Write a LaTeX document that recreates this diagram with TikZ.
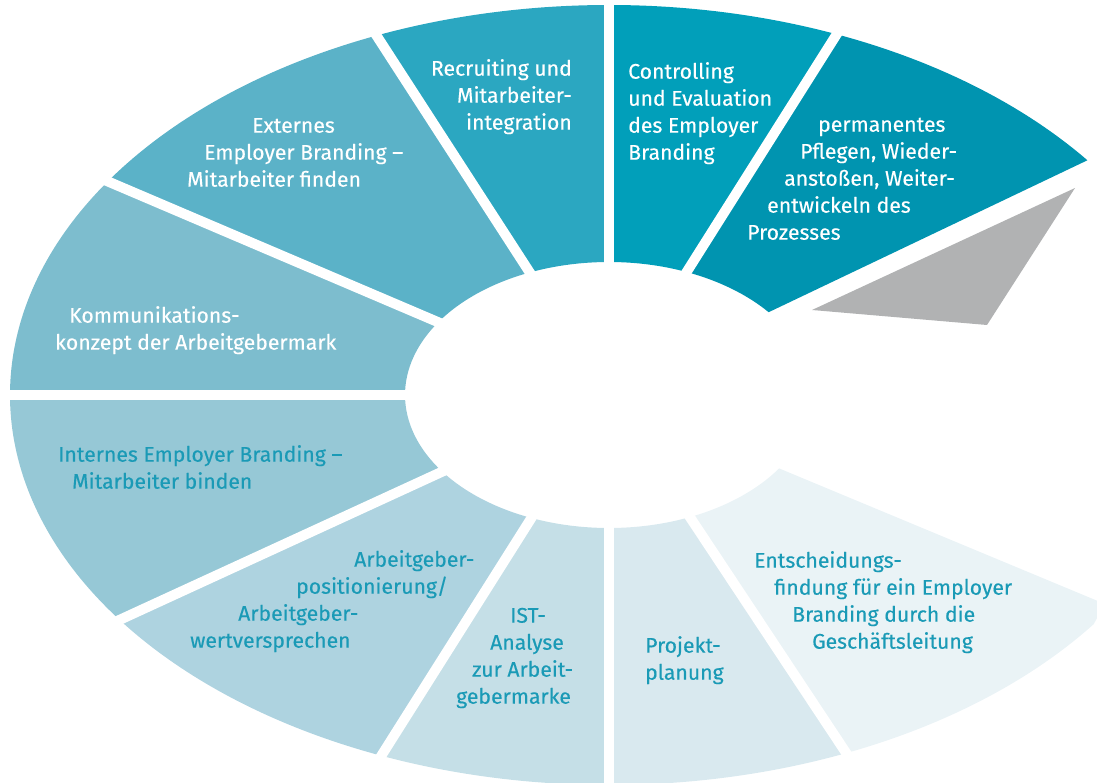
\documentclass[tikz,border=0pt]{standalone}
\usepackage{fontspec}
\setmainfont{Fira Sans}[FakeBold=0.3]
\usetikzlibrary{calc}
\definecolor{cEnt}{HTML}{EAF3F6}
\definecolor{cProj}{HTML}{D9E9EF}
\definecolor{cIst}{HTML}{C5DFE7}
\definecolor{cAgp}{HTML}{AED3E0}
\definecolor{cInt}{HTML}{96C8D6}
\definecolor{cKomm}{HTML}{7DBDCE}
\definecolor{cExt}{HTML}{5BB2C8}
\definecolor{cRec}{HTML}{2BA7C1}
\definecolor{cCtrl}{HTML}{019FBA}
\definecolor{cPerm}{HTML}{0094B0}
\definecolor{cGray}{HTML}{B1B2B3}
\definecolor{tealtext}{HTML}{1A9AB6}
\newcommand\ringseg[3]{%
  \fill[#3] ($(C)+(#1:599pt and 390pt)$)
    arc[start angle=#1, end angle=#2, x radius=599pt, y radius=390pt]
    -- ($(C)+(#2:204pt and 133pt)$)
    arc[start angle=#2, end angle=#1, x radius=204pt, y radius=133pt] -- cycle;}
\tikzset{
  lbl/.style={inner sep=0pt, align=left, anchor=north west,
    font=\fontsize{21.2}{27}\selectfont},
  lblw/.style={lbl, text=white},
  lblt/.style={lbl, text=tealtext},
  gapline/.style={draw=white, line width=10pt},
}
\begin{document}
\begin{tikzpicture}[x=1pt,y=-1pt]
\useasboundingbox (0,0) rectangle (1097,783);
\clip (0,0) rectangle (1097,783);
\coordinate (C) at (609,395);
% ring segments
\fill[cEnt] ($(C)+(293.5:599pt and 390pt)$)
    arc[start angle=293.5, end angle=324, x radius=599pt, y radius=390pt]
    -- (1105,604) -- ($(C)+(326.5:204pt and 133pt)$)
    arc[start angle=326.5, end angle=293.5, x radius=204pt, y radius=133pt] -- cycle;
\ringseg{270}{293.5}{cProj}
\ringseg{247.5}{270}{cIst}
\ringseg{215}{247.5}{cAgp}
\ringseg{180}{215}{cInt}
\ringseg{147}{180}{cKomm}
\ringseg{113}{147}{cExt}
\ringseg{90}{113}{cRec}
\ringseg{67.5}{90}{cCtrl}
\fill[cPerm] ($(C)+(37:599pt and 390pt)$)
    arc[start angle=37, end angle=67.5, x radius=599pt, y radius=390pt]
    -- ($(C)+(67.5:204pt and 133pt)$)
    arc[start angle=67.5, end angle=38.5, x radius=204pt, y radius=133pt] -- cycle;
% white gaps
\foreach \a in {67.5,90,113,147,180,215,247.5,270,293.5}
  \draw[gapline] (C) -- ($(C)+(\a:640pt and 420pt)$);
% arrow head
\fill[cGray] (1075,188) -- (812,310) -- (987,325) -- cycle;
% labels
\node[lblw, anchor=north east, align=right] (rec) at (572,56.6)
  {\strut Recruiting und\\Mitarbeiter-\\integration};
\node[lblw] (ctrl) at (628,59.6)
  {\strut Controlling\\und Evaluation\\des Employer\\Branding};
\node[lblw] (perm) at (747,112.6)
  {\strut\hspace*{71pt}permanentes\\\hspace*{53pt}Pflegen, Wieder-\\\hspace*{37pt}anstoßen, Weiter-\\\hspace*{20pt}entwickeln des\\Prozesses};
\node[lblw] (ext) at (187,113.6)
  {\strut\hspace*{65pt}Externes\\\hspace*{17pt}Employer Branding –\\Mitarbeiter finden};
\node[lblw] (komm) at (55,303.6)
  {\strut\hspace*{14pt}Kommunikations-\\konzept der Arbeitgebermark};
\node[lblt] (int) at (58,442.6)
  {\strut Internes Employer Branding –\\\hspace*{14pt}Mitarbeiter binden};
\node[lblt] (agp) at (190,547.6)
  {\strut\hspace*{164pt}Arbeitgeber-\\\hspace*{106pt}positionierung/\\\hspace*{48pt}Arbeitgeber-\\wertversprechen};
\node[lblt] (ist) at (456,603.6)
  {\strut\hspace*{54pt}IST-\\\hspace*{34pt}Analyse\\\hspace*{16pt}zur Arbeit-\\gebermarke};
\node[lblt] (proj) at (645,633.6)
  {\strut Projekt-\\planung};
\node[lblt] (ent) at (754,548.6)
  {\strut Entscheidungs-\\\hspace*{20pt}findung für ein Employer\\\hspace*{38pt}Branding durch die\\\hspace*{58pt}Geschäftsleitung};
\end{tikzpicture}
\end{document}
